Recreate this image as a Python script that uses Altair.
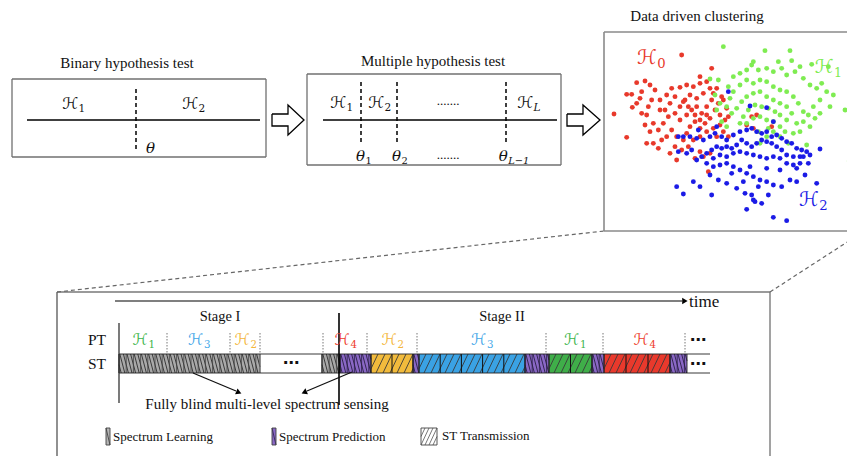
import altair as alt
import pandas as pd
import math

# ---------------- canvas ----------------
W, H = 839, 448
OX, OY = 8, 8
XS = alt.Scale(domain=[OX, OX + W], nice=False, zero=False)
YS = alt.Scale(domain=[OY, OY + H], nice=False, zero=False, reverse=True)

# ---------------- data ----------------
titles = ["Binary hypothesis test", "Multiple hypothesis test", "Data driven clustering"]

multi_hyp = ["1", "2", "L"]
multi_thr = ["1", "2", "L\u22121"]

# scatter (cluster-panel coordinates)
red_pts = [(245,165),(335,205),(135,243),(110,248),(150,255),(95,283),(80,283),(42,342),(80,412),(97,322),
           (125,275),(165,270),(155,300),(145,320),(140,345),(135,375),(150,395),(140,430),(160,430),(185,420),
           (200,410),(175,390),(190,370),(205,350),(195,330),(210,310),(225,290),(215,265),(240,262),(260,255),
           (280,260),(300,250),(310,280),(290,295),(270,285),(255,300),(240,320),(225,340),(240,360),(260,345),
           (275,330),(290,320),(305,340),(320,320),(335,300),(340,280),(330,265),(320,245),(350,265),(365,290),
           (355,310),(345,330),(330,355),(315,370),(300,385),(285,365),(270,380),(260,400),(250,420),(230,410),
           (215,390),(225,440),(245,450),(265,440),(280,420),(300,410),(320,395),(340,385),(360,375),(375,360),
           (370,395),(385,410),(350,410),(330,460),(310,470),(285,475),(300,455),(325,515),(370,300),(380,325),
           (385,350),(300,230),(230,480),(210,460),(175,445),(160,370),(110,310),(120,295),(125,340),(180,330),
           (200,285),(180,300),(250,305),(265,320),(285,345),(300,360),(320,345),(360,345),(440,375),(455,350),
           (470,345),(515,380),(460,385)]
green_pts = [(370,140),(495,152),(570,152),(460,185),(535,185),(575,182),(635,193),(685,200),(330,237),(355,240),
             (385,260),(400,230),(420,220),(440,210),(455,195),(475,210),(500,205),(520,215),(545,205),(560,225),
             (585,215),(600,200),(610,235),(630,255),(650,265),(665,250),(680,275),(700,285),(660,300),(640,320),
             (625,345),(610,335),(595,310),(580,290),(560,275),(540,270),(520,260),(500,245),(480,240),(460,250),
             (440,240),(420,255),(400,275),(390,295),(380,320),(395,340),(410,325),(425,305),(440,290),(460,280),
             (480,275),(500,290),(520,300),(540,310),(560,320),(575,340),(560,360),(540,345),(525,335),(505,325),
             (485,320),(465,315),(445,330),(430,350),(420,370),(440,370),(460,355),(480,350),(500,360),(520,365),
             (540,380),(555,395),(540,410),(520,395),(505,385),(590,370),(610,365),(630,380),(600,395),(580,400),
             (565,430),(620,435),(645,355),(660,340),(690,320),(735,330),(757,290),(748,483),(345,285),(360,310),
             (350,330),(365,365),(380,380),(475,395),(500,410),(480,430)]
blue_pts = [(385,275),(450,318),(500,323),(520,365),(350,380),(295,390),(235,410),(250,410),(270,410),(290,415),
            (310,420),(330,410),(345,400),(365,410),(380,420),(400,405),(420,395),(440,390),(455,385),(470,395),
            (485,400),(500,395),(515,410),(530,405),(545,415),(560,425),(575,430),(590,445),(605,450),(620,455),
            (630,465),(660,447),(600,470),(580,470),(560,465),(545,450),(530,440),(515,430),(500,425),(485,420),
            (470,430),(455,440),(440,430),(425,420),(410,435),(395,445),(380,440),(365,445),(350,440),(335,450),
            (320,460),(305,470),(290,480),(275,450),(260,460),(235,455),(340,475),(360,465),(380,470),(400,460),
            (420,455),(440,460),(460,465),(480,470),(500,475),(520,470),(540,475),(560,490),(580,495),(600,490),
            (625,490),(615,525),(650,550),(590,545),(570,540),(545,560),(520,555),(500,545),(480,540),(460,530),
            (440,520),(420,510),(400,500),(380,490),(360,495),(340,500),(320,490),(330,525),(355,540),(380,550),
            (410,565),(435,580),(460,600),(455,585),(485,610),(440,628),(465,605),(520,652),(560,662),(505,585),
            (475,560),(430,545),(230,560),(250,582),(280,545),(300,560),(335,585),(395,520),(450,500),(500,505),
            (540,510),(590,505),(610,470)]

# timeline: primary-user (PT) states and secondary (ST) activity, in time units
pt_bounds = [119, 167, 230, 260, 323, 367, 417, 546, 603, 685]
pt_hyp = ["1", "3", "2", "", "4", "2", "3", "1", "4"]
st_bounds = [119, 260, 322, 340, 371, 413, 419, 525, 549, 592, 604, 670, 687]
st_kind = ["learn", "gap", "learn", "pred", "tx", "pred", "tx", "pred", "tx", "pred", "tx", "pred"]
st_hyp = ["", "", "", "", "2", "", "3", "", "1", "", "4", ""]
st_blocks = [0, 0, 0, 0, 2, 0, 5, 0, 2, 0, 3, 0]
legend_labels = ["Spectrum Learning", "Spectrum Prediction", "ST Transmission"]

HCOL = {"1": "#3cb54a", "2": "#f4b63a", "3": "#3fa6e8", "4": "#ee3b2b"}
TXFILL = {"1": "#3fae49", "2": "#f2bb3c", "3": "#3aa2e4", "4": "#e9392c"}
SERIF = "Liberation Serif"
MATH = "DejaVu Sans"

# ---------------- helpers ----------------
def X():
    return alt.X("x:Q", scale=XS, axis=None)

def Y():
    return alt.Y("y:Q", scale=YS, axis=None)

def rules(rows, dash=None):
    df = pd.DataFrame(rows, columns=["x", "y", "x2", "y2", "c", "w"])
    kw = {}
    if dash:
        kw["strokeDash"] = dash
    return alt.Chart(df).mark_rule(**kw).encode(
        x=X(), y=Y(), x2="x2:Q", y2="y2:Q",
        color=alt.Color("c:N", scale=None),
        strokeWidth=alt.StrokeWidth("w:Q", scale=None))

def rects(rows):
    df = pd.DataFrame(rows, columns=["x", "y", "x2", "y2", "f"])
    return alt.Chart(df).mark_rect().encode(
        x=X(), y=Y(), x2="x2:Q", y2="y2:Q", fill=alt.Fill("f:N", scale=None))

def texts(rows, font=SERIF, style="normal", align="center", weight="normal"):
    df = pd.DataFrame(rows, columns=["x", "y", "t", "c", "s"])
    return alt.Chart(df).mark_text(font=font, fontStyle=style, align=align,
                                   baseline="middle", fontWeight=weight).encode(
        x=X(), y=Y(), text="t:N",
        color=alt.Color("c:N", scale=None), size=alt.Size("s:Q", scale=None))

def hatch(x0, x1, y0, y1, spacing, slant, color, w):
    out = []
    t = x0 - abs(slant) - spacing
    while t < x1 + abs(slant) + spacing:
        xa, ya, xb, yb = t, y1, t + slant, y0
        d = xb - xa
        u0, u1 = 0.0, 1.0
        if d != 0:
            ua, ub = (x0 - xa) / d, (x1 - xa) / d
            u0, u1 = max(0.0, min(ua, ub)), min(1.0, max(ua, ub))
        elif not (x0 <= xa <= x1):
            u0, u1 = 1, 0
        if u1 - u0 > 1e-6:
            out.append((xa + d * u0, ya + (yb - ya) * u0, xa + d * u1, ya + (yb - ya) * u1, color, w))
        t += spacing
    return out

# symbol with subscript: base right-aligned, subscript left-aligned
H_base, T_base, sub_up, sub_it = [], [], [], []

def sym(kind, cx, y, sub, color, size, italic_sub=False):
    wb = 0.80 * size if kind == "H" else 0.55 * size
    ws = 0.42 * size * len(sub)
    split = cx - (wb + ws) / 2 + wb
    (H_base if kind == "H" else T_base).append((split, y, "\u210b" if kind == "H" else "\u03b8", color, size))
    if sub:
        (sub_it if italic_sub else sub_up).append((split + 0.5, y + size * 0.3, sub, color, size * 0.66))

layers = []

# ---------------- top row: boxes ----------------
frame = []
for (a, b, c, d) in [(12, 79, 266, 157), (307, 74, 561, 165)]:
    frame += [(a, b, c, b, "#707070", 1.3), (a, d, c, d, "#707070", 1.3),
              (a, b, a, d, "#707070", 1.3), (c, b, c, d, "#707070", 1.3)]
frame += [(604, 32, 870, 32, "#8a8a8a", 1.6), (604, 32, 604, 231, "#8a8a8a", 1.6),
          (604, 231, 870, 231, "#8a8a8a", 1.6)]
# bottom panel
frame += [(57, 292, 770, 292, "#9a9a9a", 2.2), (57, 292, 57, 470, "#555555", 1.3),
          (770, 292, 770, 470, "#707070", 1.3), (57, 463, 770, 463, "#444444", 1.3)]
# number lines
frame += [(27, 120, 260, 120, "#000000", 1.5), (323, 120, 557, 120, "#000000", 1.5)]
layers.append(rules(frame))

dashed = [(136, 89, 136, 149, "#000000", 1.5)]
for xv in [361, 397, 506]:
    dashed.append((xv, 82, xv, 143, "#000000", 1.5))
layers.append(rules(dashed, dash=[4, 3]))

layers.append(rules([(57, 292, 604, 231, "#666666", 1.2), (770, 292, 858, 235, "#666666", 1.2)], dash=[4, 3]))

# block arrows
arrow_rows = []
for k, (x0, xs_, xt) in enumerate([(272, 288, 304), (567, 583, 600)]):
    pts = [(x0, 114), (xs_, 114), (xs_, 105), (xt, 120), (xs_, 135), (xs_, 126), (x0, 126), (x0, 114)]
    for i, (px, py) in enumerate(pts):
        arrow_rows.append({"x": px, "y": py, "g": k, "o": i})
layers.append(alt.Chart(pd.DataFrame(arrow_rows)).mark_line(color="black", strokeWidth=1.3).encode(
    x=X(), y=Y(), detail="g:N", order="o:Q"))

# titles
layers.append(texts([(127, 63, titles[0], "#111111", 15), (433, 61, titles[1], "#111111", 15),
                     (697, 16, titles[2], "#111111", 15)]))

# hypothesis symbols in the top row
sym("H", 75, 104, "1", "#111111", 16)
sym("H", 195, 104, "2", "#111111", 16)
for xv, s in zip([343, 381, 530], multi_hyp):
    sym("H", xv, 103, s, "#111111", 16, italic_sub=(s == "L"))
sym("T", 151, 148, "", "#111111", 15)
for xv, s in zip([364, 400, 513], multi_thr):
    sym("T", xv, 156, s, "#111111", 15, italic_sub=(s != "1" and s != "2"))
layers.append(texts([(448, 101, ".......", "#111111", 13), (448, 155, ".......", "#111111", 13)]))

# scatter
sc = []
for pts, col in [(red_pts, "#e8392b"), (green_pts, "#7fec52"), (blue_pts, "#1b1be6")]:
    for (px, py) in pts:
        sc.append({"x": 600 + px / 3, "y": py / 3, "c": col})
layers.append(alt.Chart(pd.DataFrame(sc)).mark_circle(size=24, opacity=1).encode(
    x=X(), y=Y(), color=alt.Color("c:N", scale=None)))
sym("H", 653, 58, "0", "#e8392b", 20)
sym("H", 830, 67, "1", "#7fec52", 19)
sym("H", 815, 200, "2", "#1b1be6", 20)

# ---------------- timeline ----------------
TOP, BOT = 354, 373
fills, hl = [], []
for i, kind in enumerate(st_kind):
    a, b = st_bounds[i], st_bounds[i + 1]
    if kind == "learn":
        fills.append((a, TOP, b, BOT, "#a9a9a9"))
        hl += hatch(a, b, TOP, BOT, 3.6, -5, "#2e2e2e", 0.9)
        hl += hatch(a, b, TOP, BOT, 7.2, 0, "#444444", 0.8)
    elif kind == "pred":
        fills.append((a, TOP, b, BOT, "#8a68c6"))
        hl += hatch(a, b, TOP, BOT, 3.6, -5, "#2a1f44", 0.9)
        hl += hatch(a, b, TOP, BOT, 7.2, 0, "#2a1f44", 0.8)
    elif kind == "tx":
        fills.append((a, TOP, b, BOT, TXFILL[st_hyp[i]]))
        hl += hatch(a, b, TOP, BOT, 7, 9, "#3a3a3a", 0.9)
        n = st_blocks[i]
        for j in range(1, n):
            xv = a + (b - a) * j / n
            hl.append((xv, TOP, xv, BOT, "#111111", 1.0))
    if kind != "gap":
        hl.append((a, TOP, a, BOT, "#222222", 0.9))
        hl.append((b, TOP, b, BOT, "#222222", 0.9))
    else:
        hl.append((a, TOP, a, BOT, "#888888", 0.9))
        hl.append((b, TOP, b, BOT, "#888888", 0.9))
layers.append(rects(fills))
hl += [(119, TOP, 710, TOP, "#222222", 0.9), (119, BOT, 710, BOT, "#222222", 0.9)]
hl += [(119, 323, 119, 403, "#333333", 1.3), (339, 313, 339, 405, "#000000", 1.6)]
hl += [(115, 301, 682, 301, "#000000", 1.2)]
hl += [(193, 373, 236, 391, "#111111", 1.3), (352, 372, 307, 391, "#111111", 1.3)]
layers.append(rules(hl))

# PT separators
seps = [(xv, 333, xv, 354, "#777777", 1.0) for xv in pt_bounds[1:]]
layers.append(rules(seps, dash=[1.5, 1.5]))

# arrow heads
heads = pd.DataFrame([
    {"x": 684, "y": 301, "a": 90},
    {"x": 238, "y": 392, "a": math.degrees(math.atan2(47, -20)) % 360},
    {"x": 305, "y": 392, "a": math.degrees(math.atan2(-49, -21)) % 360},
])
layers.append(alt.Chart(heads).mark_point(shape="triangle", filled=True, color="black", size=40, opacity=1).encode(
    x=X(), y=Y(), angle=alt.Angle("a:Q", scale=None)))

# PT labels
for i, h in enumerate(pt_hyp):
    if h:
        cx = (pt_bounds[i] + pt_bounds[i + 1]) / 2
        sym("H", cx + 2, 340, h, HCOL[h], 15.5)

layers.append(texts([
    (220, 317, "Stage I", "#111111", 14.5), (502, 317, "Stage II", "#111111", 14.5),
    (97, 340, "PT", "#111111", 15.5), (97, 364, "ST", "#111111", 15.5),
    (267, 404, "Fully blind multi-level spectrum sensing", "#111111", 15),
]))
layers.append(texts([(689, 302, "time", "#111111", 17)], align="left"))
layers.append(texts([(291, 363, "\u22ef", "#111111", 16), (698, 340, "\u22ef", "#111111", 16),
                     (698, 364, "\u22ef", "#111111", 16)], font="DejaVu Sans", weight="bold"))

# legend
leg_f = [(106, 428, 110, 445, "#b5b5b5"), (272, 428, 276, 445, "#8a68c6"), (421, 428, 437, 445, "#ffffff")]
layers.append(rects(leg_f))
lh = []
lh += hatch(106, 110, 428, 445, 4, -4, "#333333", 0.8)
lh += hatch(272, 276, 428, 445, 4, -4, "#2a1f44", 0.8)
lh += hatch(421, 437, 428, 445, 4, 8, "#555555", 0.8)
for (a, b, c, d) in [(106, 428, 110, 445), (272, 428, 276, 445), (421, 428, 437, 445)]:
    lh += [(a, b, c, b, "#444444", 0.9), (a, d, c, d, "#444444", 0.9),
           (a, b, a, d, "#444444", 0.9), (c, b, c, d, "#444444", 0.9)]
layers.append(rules(lh))
layers.append(texts([(113, 437, legend_labels[0], "#111111", 13), (279, 437, legend_labels[1], "#111111", 13),
                     (442, 436, legend_labels[2], "#111111", 13)], align="left"))

# symbol layers
layers.append(texts(H_base, font=MATH, align="right"))
layers.append(texts(T_base, font="DejaVu Serif", style="italic", align="right"))
layers.append(texts(sub_up, font="DejaVu Serif", align="left"))
layers.append(texts(sub_it, font="DejaVu Serif", style="italic", align="left"))

chart = alt.layer(*layers).properties(
    width=W, height=H, padding=0,
    autosize=alt.AutoSizeParams(type="none"),
).configure_view(stroke=None)

chart.save("out.html", embed_options={"renderer": "svg", "actions": False})
